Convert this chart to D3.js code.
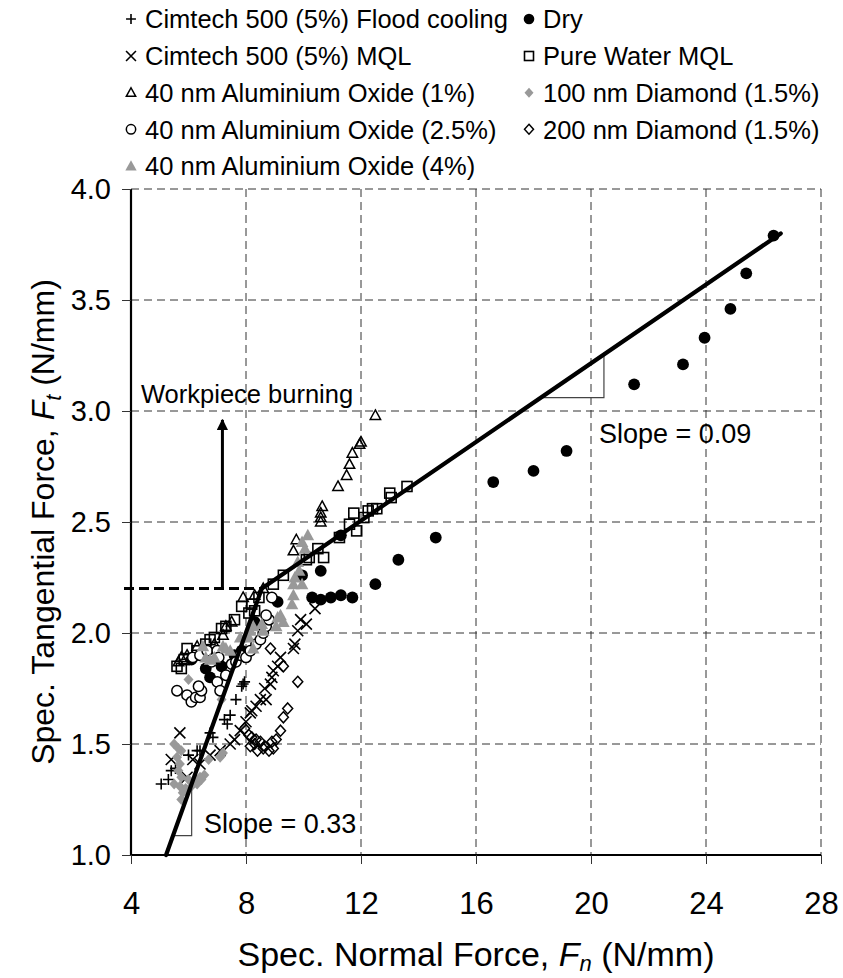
<!DOCTYPE html>
<html>
<head>
<meta charset="utf-8">
<script src="https://cdn.jsdelivr.net/npm/d3@7"></script>
<style>
  body { margin: 0; background: #fff; }
  svg text { font-family: "Liberation Sans", Arial, Helvetica, sans-serif; fill: #000; }
</style>
</head>
<body>
<svg id="chart" width="843" height="978"></svg>
<script>
// ---- data (Fn, Ft) ----
const cimtechFlood = [[5.05,1.32],[5.3,1.34],[5.4,1.38],[5.55,1.39],[6.0,1.45],[6.3,1.47],[6.4,1.47],[6.75,1.55],[6.85,1.53],[7.25,1.61],[7.35,1.59],[7.45,1.63],[7.65,1.70],[7.85,1.76],[7.9,1.77],[7.95,1.78]];
const dry = [[6.1,1.88],[6.6,1.84],[6.75,1.80],[7.15,1.85],[7.6,1.90],[7.85,1.92],[8.3,2.05],[9.1,2.14],[9.95,2.26],[10.3,2.16],[10.6,2.15],[10.6,2.28],[10.95,2.16],[11.3,2.17],[11.3,2.44],[11.7,2.16],[12.5,2.22],[13.3,2.33],[14.6,2.43],[16.6,2.68],[18.0,2.73],[19.15,2.82],[21.5,3.12],[23.2,3.21],[23.95,3.33],[24.85,3.46],[25.4,3.62],[26.35,3.79]];
const cimtechMQL = [[5.4,1.43],[5.7,1.55],[5.95,1.35],[6.15,1.43],[6.4,1.41],[6.75,1.45],[7.1,1.47],[7.45,1.50],[7.6,1.52],[7.8,1.56],[8.0,1.60],[8.15,1.64],[8.2,1.65],[8.35,1.67],[8.5,1.70],[8.7,1.70],[8.65,1.75],[8.85,1.77],[8.9,1.80],[8.95,1.83],[9.1,1.85],[9.2,1.89],[9.65,1.93],[9.7,1.95],[9.8,2.01],[9.9,2.06],[10.1,2.04],[10.4,2.11]];
const pureWaterMQL = [[5.6,1.85],[5.75,1.84],[5.85,1.88],[5.95,1.93],[6.3,1.92],[6.6,1.95],[6.75,1.97],[6.9,1.98],[7.15,2.02],[7.3,2.03],[7.6,2.06],[7.85,2.12],[8.1,2.09],[8.2,2.13],[8.3,2.10],[8.45,2.16],[8.95,2.22],[9.3,2.26],[10.1,2.33],[10.2,2.34],[10.5,2.38],[10.7,2.34],[11.25,2.43],[11.6,2.49],[11.75,2.54],[11.85,2.46],[12.1,2.52],[12.25,2.55],[12.4,2.56],[12.55,2.56],[13.0,2.63],[13.05,2.61],[13.6,2.66]];
const alOx1 = [[5.65,1.87],[5.75,1.89],[5.95,1.90],[6.3,1.94],[6.9,1.95],[7.2,1.99],[7.3,2.03],[7.5,2.05],[7.9,2.16],[8.3,2.17],[8.6,2.2],[9.65,2.37],[9.75,2.42],[10.6,2.50],[10.6,2.52],[10.6,2.54],[10.65,2.57],[11.2,2.66],[11.5,2.71],[11.6,2.76],[11.7,2.81],[11.95,2.85],[12.0,2.86],[12.5,2.98]];
const diamond100 = [[5.5,1.50],[5.65,1.48],[5.75,1.47],[5.6,1.44],[5.7,1.41],[5.65,1.38],[5.75,1.35],[5.5,1.32],[5.7,1.31],[5.9,1.30],[5.8,1.28],[5.75,1.25],[6.0,1.34],[6.1,1.31],[6.25,1.34],[6.3,1.32],[6.4,1.35],[6.55,1.36],[6.45,1.34],[6.7,1.43],[7.1,1.44],[7.2,1.46],[6.0,1.79],[7.15,1.70]];
const alOx25 = [[5.6,1.74],[5.95,1.72],[6.1,1.69],[6.25,1.71],[6.4,1.71],[6.45,1.74],[6.35,1.76],[6.15,1.89],[6.4,1.90],[6.65,1.92],[6.8,1.87],[7.0,1.92],[7.05,1.89],[7.0,1.78],[7.1,1.74],[7.3,1.81],[7.5,1.86],[7.65,1.87],[7.8,1.90],[8.0,1.89],[8.15,1.92],[8.35,1.95],[8.5,1.97],[8.6,2.0],[8.7,2.03],[8.8,2.06],[8.7,2.08],[8.9,2.16]];
const diamond200 = [[7.95,1.57],[8.1,1.54],[8.15,1.49],[8.2,1.53],[8.3,1.50],[8.35,1.52],[8.4,1.47],[8.5,1.51],[8.6,1.48],[8.65,1.49],[8.8,1.47],[8.9,1.51],[8.95,1.48],[9.05,1.52],[9.2,1.56],[9.3,1.62],[9.45,1.66],[9.3,1.85],[9.8,1.78],[8.85,1.93]];
const alOx4 = [[6.5,1.94],[6.6,1.89],[6.75,1.88],[6.9,1.89],[7.2,1.94],[7.3,1.93],[7.45,1.92],[7.8,1.98],[8.1,1.98],[8.15,2.01],[8.25,1.93],[8.25,2.03],[8.55,2.04],[8.6,2.01],[9.05,2.03],[9.1,2.07],[9.2,2.08],[9.3,2.05],[9.6,2.13],[9.65,2.17],[9.65,2.22],[9.7,2.25],[9.8,2.32],[9.85,2.28],[9.95,2.22],[9.95,2.41],[10.05,2.38],[10.15,2.44]];

// fitted lines and annotations
const fitLow = [[5.22, 1.0], [8.55, 2.2]];
const fitHigh = [[8.55, 2.2], [26.6, 3.8]];
const burnLevel = 2.2;
const burnArrow = [[7.18, 2.2], [7.18, 2.96]];
const slopeLabels = ["Slope = 0.33", "Slope = 0.09"];

const xTicks = [4, 8, 12, 16, 20, 24, 28];
const yTicks = [1.0, 1.5, 2.0, 2.5, 3.0, 3.5, 4.0];

const seriesNames = [
  "Cimtech 500 (5%) Flood cooling", "Dry",
  "Cimtech 500 (5%) MQL", "Pure Water MQL",
  "40 nm Aluminium Oxide (1%)", "100 nm Diamond (1.5%)",
  "40 nm Aluminium Oxide (2.5%)", "200 nm Diamond (1.5%)",
  "40 nm Aluminium Oxide (4%)"
];
const seriesData = [cimtechFlood, dry, cimtechMQL, pureWaterMQL, alOx1, diamond100, alOx25, diamond200, alOx4];
const seriesShape = ["plus", "dot", "cross", "square", "triangle", "diamondFill", "circle", "diamond", "triangleFill"];

const GRAY = "#999999";

const svg = d3.select("#chart");
const pLeft = 131, pRight = 821, pTop = 189, pBottom = 855;

const x = d3.scaleLinear().domain([4, 28]).range([pLeft, pRight]);
const y = d3.scaleLinear().domain([1, 4]).range([pBottom, pTop]);

// ---- grid ----
svg.append("g").selectAll("line").data(xTicks.slice(1)).join("line")
  .attr("x1", d => x(d)).attr("x2", d => x(d))
  .attr("y1", pTop).attr("y2", pBottom)
  .attr("stroke", "#333").attr("stroke-width", 1).attr("stroke-dasharray", "8,5");
svg.append("g").selectAll("line").data(yTicks.slice(1)).join("line")
  .attr("x1", pLeft).attr("x2", pRight)
  .attr("y1", d => y(d)).attr("y2", d => y(d))
  .attr("stroke", "#333").attr("stroke-width", 1).attr("stroke-dasharray", "8,5");

// ---- axes ----
const xAxis = svg.append("g").attr("transform", `translate(0,${pBottom})`)
  .call(d3.axisBottom(x).tickValues(xTicks).tickSize(9).tickPadding(28).tickFormat(d3.format("d")));
const yAxis = svg.append("g").attr("transform", `translate(${pLeft},0)`)
  .call(d3.axisLeft(y).tickValues(yTicks).tickSize(9).tickPadding(11).tickFormat(d3.format(".1f")));
[xAxis, yAxis].forEach(a => {
  a.select(".domain").attr("stroke", "#000").attr("stroke-width", 2.2);
  a.selectAll(".tick line").attr("stroke", "#333").attr("stroke-width", 1);
  a.selectAll(".tick text").attr("font-family", null);
});
xAxis.selectAll(".tick text").attr("font-size", 31);
yAxis.selectAll(".tick text").attr("font-size", 29);
xAxis.select(".domain").attr("d", `M${pLeft},0H${pRight}`);
yAxis.select(".domain").attr("d", `M0,${pBottom}V${pTop}`);

// ---- axis titles ----
const xt = svg.append("text").attr("x", (pLeft + pRight) / 2).attr("y", 966)
  .attr("text-anchor", "middle").attr("font-size", 34);
xt.append("tspan").text("Spec. Normal Force, ");
xt.append("tspan").attr("font-style", "italic").text("F");
xt.append("tspan").attr("font-style", "italic").attr("font-size", 22).attr("dy", 5).text("n");
xt.append("tspan").attr("dy", -5).text(" (N/mm)");

const yt = svg.append("text")
  .attr("transform", `translate(54,${(pTop + pBottom) / 2}) rotate(-90)`)
  .attr("text-anchor", "middle").attr("font-size", 32);
yt.append("tspan").text("Spec. Tangential Force, ");
yt.append("tspan").attr("font-style", "italic").text("F");
yt.append("tspan").attr("font-style", "italic").attr("font-size", 22).attr("dy", 7).text("t");
yt.append("tspan").attr("dy", -7).text(" (N/mm)");

// ---- marker helper ----
function marker(sel, shape, s) {
  const k = s || 1;
  if (shape === "plus") {
    sel.append("path").attr("d", `M${-5.5*k},0H${5.5*k}M0,${-5.5*k}V${5.5*k}`)
      .attr("stroke", "#000").attr("stroke-width", 1.6).attr("fill", "none");
  } else if (shape === "cross") {
    sel.append("path").attr("d", `M${-5.5*k},${-5.5*k}L${5.5*k},${5.5*k}M${-5.5*k},${5.5*k}L${5.5*k},${-5.5*k}`)
      .attr("stroke", "#000").attr("stroke-width", 1.6).attr("fill", "none");
  } else if (shape === "dot") {
    sel.append("circle").attr("r", 5.9 * k).attr("fill", "#000");
  } else if (shape === "circle") {
    sel.append("circle").attr("r", 5.2 * k).attr("fill", "#fff")
      .attr("stroke", "#000").attr("stroke-width", 1.5);
  } else if (shape === "square") {
    sel.append("rect").attr("x", -5 * k).attr("y", -5 * k).attr("width", 10 * k).attr("height", 10 * k)
      .attr("fill", "none").attr("stroke", "#000").attr("stroke-width", 1.6);
  } else if (shape === "triangle") {
    sel.append("path").attr("d", `M0,${-5.5*k}L${5.2*k},${4*k}L${-5.2*k},${4*k}Z`)
      .attr("fill", "none").attr("stroke", "#000").attr("stroke-width", 1.5);
  } else if (shape === "triangleFill") {
    sel.append("path").attr("d", `M0,${-6.5*k}L${6.3*k},${5*k}L${-6.3*k},${5*k}Z`).attr("fill", GRAY);
  } else if (shape === "diamond") {
    sel.append("path").attr("d", `M0,${-5.5*k}L${5*k},0L0,${5.5*k}L${-5*k},0Z`)
      .attr("fill", "none").attr("stroke", "#000").attr("stroke-width", 1.5);
  } else if (shape === "diamondFill") {
    sel.append("path").attr("d", `M0,${-5.5*k}L${5*k},0L0,${5.5*k}L${-5*k},0Z`).attr("fill", GRAY);
  }
}

// ---- scatter ----
const plot = svg.append("g");
seriesData.forEach((data, i) => {
  plot.append("g").selectAll("g").data(data).join("g")
    .attr("transform", d => `translate(${x(d[0])},${y(d[1])})`)
    .each(function () { marker(d3.select(this), seriesShape[i]); });
});

// ---- annotations ----
const line = d3.line().x(d => x(d[0])).y(d => y(d[1]));

// workpiece burning dashed level + arrow
svg.append("line").attr("x1", pLeft - 7).attr("x2", x(fitLow[1][0]))
  .attr("y1", y(burnLevel)).attr("y2", y(burnLevel))
  .attr("stroke", "#000").attr("stroke-width", 3).attr("stroke-dasharray", "10,5");
svg.append("defs").append("marker").attr("id", "arrow")
  .attr("viewBox", "0 0 10 10").attr("refX", 9).attr("refY", 5)
  .attr("markerWidth", 3.8).attr("markerHeight", 3.8).attr("orient", "auto")
  .append("path").attr("d", "M0,0L10,5L0,10Z").attr("fill", "#000");
svg.append("path").attr("d", line(burnArrow))
  .attr("stroke", "#000").attr("stroke-width", 3).attr("marker-end", "url(#arrow)");
svg.append("text").attr("x", 141).attr("y", 403).attr("font-size", 25.5).text("Workpiece burning");

// slope triangles
function yOnFit(fit, xv) {
  const [a, b] = fit;
  return a[1] + (xv - a[0]) * (b[1] - a[1]) / (b[0] - a[0]);
}
function xOnFit(fit, yv) {
  const [a, b] = fit;
  return a[0] + (yv - a[1]) * (b[0] - a[0]) / (b[1] - a[1]);
}
const triangles = [
  { fit: fitLow, corner: [6.11, 1.087] },
  { fit: fitHigh, corner: [20.45, 3.06] }
];
triangles.forEach(t => {
  const pts = [[xOnFit(t.fit, t.corner[1]), t.corner[1]], t.corner, [t.corner[0], yOnFit(t.fit, t.corner[0])]];
  svg.append("path").attr("d", line(pts)).attr("fill", "none")
    .attr("stroke", "#444").attr("stroke-width", 1.2);
});
svg.append("text").attr("x", 204).attr("y", 833).attr("font-size", 27).text(slopeLabels[0]);
svg.append("text").attr("x", 599).attr("y", 443).attr("font-size", 27).text(slopeLabels[1]);

// fitted lines
[fitLow, fitHigh].forEach(f => {
  svg.append("path").attr("d", line(f)).attr("stroke", "#000")
    .attr("stroke-width", 4.2).attr("fill", "none").attr("stroke-linecap", "round");
});

// ---- legend ----
const legendCols = [131, 529];
const legendRowY = [19, 56, 92.7, 129.3, 166];
seriesNames.forEach((name, i) => {
  const col = i % 2, row = Math.floor(i / 2);
  const g = svg.append("g").attr("transform", `translate(${legendCols[col]},${legendRowY[row]})`);
  marker(g, seriesShape[i], 0.9);
  g.append("text").attr("x", 14).attr("y", 9.3).attr("font-size", 25.5).text(name);
});
</script>
</body>
</html>
